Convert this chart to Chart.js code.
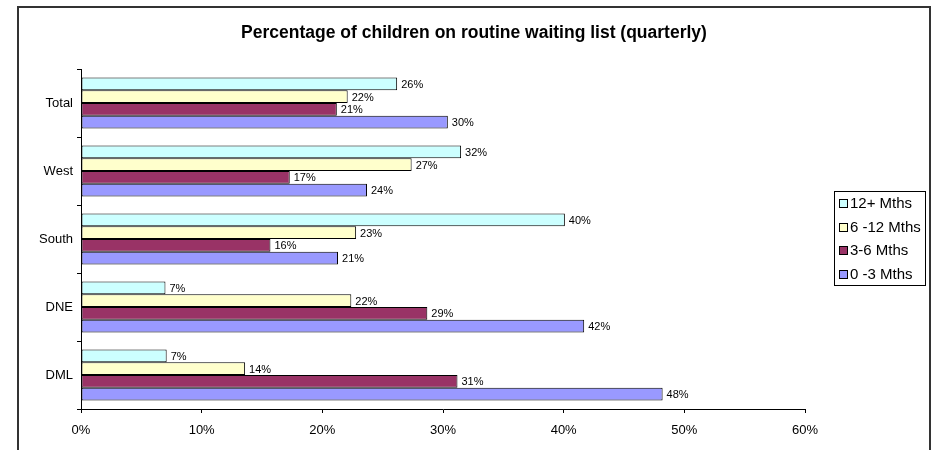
<!DOCTYPE html>
<html lang="en">

<head>
    <meta charset="UTF-8">
    <title>Routine waiting list</title>
    <style>
        body { margin: 0; background: #fff; }
    </style>
</head>

<body>
    <canvas id="myChart" width="935" height="450"></canvas>

    <script src="https://cdn.jsdelivr.net/npm/chart.js@4.4.1/dist/chart.umd.min.js"></script>
    <script>
        // areas, top to bottom
        const categories = ['Total', 'West', 'South', 'DNE', 'DML'];
        const seriesNames = ['12+ Mths', '6 -12 Mths', '3-6 Mths', '0 -3 Mths'];
        const seriesColors = ['#CCFFFF', '#FFFFCC', '#993366', '#9999FF'];

        // percent of children per waiting band
        const over12Mths = [26.2, 31.5, 40.1, 7.0, 7.1];
        const mths6to12 = [22.1, 27.4, 22.8, 22.4, 13.6];
        const mths3to6 = [21.2, 17.3, 15.7, 28.7, 31.2];
        const mths0to3 = [30.4, 23.7, 21.3, 41.7, 48.2];

        const axisMax = 60;
        const axisStep = 10;

        const chartTitle = 'Percentage of children on routine waiting list (quarterly)';
        const fontFamily = '"Liberation Sans", Arial, sans-serif';

        const seriesValues = [over12Mths, mths6to12, mths3to6, mths0to3];

        // outer frame + title centred on the frame
        const framePlugin = {
            id: 'frame',
            beforeDraw(chart) {
                const c = chart.ctx;
                c.save();
                c.fillStyle = '#fff';
                c.fillRect(0, 0, chart.width, chart.height);
                c.strokeStyle = '#333';
                c.lineWidth = 2;
                c.strokeRect(18, 7, 912, 470);
                c.fillStyle = '#000';
                c.font = 'bold 17.5px ' + fontFamily;
                c.textAlign = 'center';
                c.textBaseline = 'middle';
                c.fillText(chartTitle, 474, 33);
                c.restore();
            }
        };

        // value text at the end of each bar
        const valueLabels = {
            id: 'valueLabels',
            afterDatasetsDraw(chart) {
                const c = chart.ctx;
                c.save();
                c.font = '11px ' + fontFamily;
                c.fillStyle = '#000';
                c.textBaseline = 'middle';
                c.textAlign = 'left';
                chart.data.datasets.forEach((ds, i) => {
                    chart.getDatasetMeta(i).data.forEach((bar, j) => {
                        c.fillText(Math.round(ds.data[j]) + '%', bar.x + 4, bar.y + 1);
                    });
                });
                c.restore();
            }
        };

        // boxed legend on the right
        const boxLegend = {
            id: 'boxLegend',
            afterDraw(chart) {
                const c = chart.ctx;
                c.save();
                c.strokeStyle = '#000';
                c.lineWidth = 1;
                c.strokeRect(834.5, 191.5, 91, 94);
                c.font = '15px ' + fontFamily;
                c.textBaseline = 'middle';
                chart.data.datasets.forEach((ds, i) => {
                    const y = Math.round(203 + i * 23.5);
                    c.fillStyle = ds.backgroundColor;
                    c.fillRect(839.5, y - 3.5, 8, 8);
                    c.strokeRect(839.5, y - 3.5, 8, 8);
                    c.fillStyle = '#000';
                    c.fillText(ds.label, 850, y + 1);
                });
                c.restore();
            }
        };

        var ctx = document.getElementById('myChart');
        var config = {
            type: 'bar',
            data: {
                labels: categories,
                datasets: seriesNames.map((name, i) => ({
                    label: name,
                    data: seriesValues[i],
                    backgroundColor: seriesColors[i],
                    borderColor: '#000',
                    borderWidth: 1,
                    borderSkipped: false,
                    barPercentage: 1.0,
                    categoryPercentage: 0.75,
                }))
            },
            options: {
                indexAxis: 'y',
                responsive: false,
                animation: false,
                layout: {
                    padding: { left: 18, right: 130, top: 69, bottom: 0 }
                },
                plugins: {
                    legend: { display: false },
                    tooltip: { enabled: false },
                    title: { display: false }
                },
                scales: {
                    x: {
                        min: 0,
                        max: axisMax,
                        ticks: {
                            stepSize: axisStep,
                            color: '#000',
                            padding: 10,
                            font: { family: fontFamily, size: 13 },
                            callback: v => v + '%'
                        },
                        grid: {
                            drawOnChartArea: false,
                            tickLength: 4,
                            color: '#000'
                        },
                        border: { color: '#000', width: 1 },
                        afterFit: scale => { scale.height = 41; }
                    },
                    y: {
                        ticks: {
                            color: '#000',
                            padding: 4,
                            font: { family: fontFamily, size: 13 }
                        },
                        grid: {
                            offset: true,
                            drawOnChartArea: false,
                            tickLength: 4,
                            color: '#000'
                        },
                        border: { color: '#000', width: 1 },
                        afterFit: scale => { scale.width = 63; }
                    }
                }
            },
            plugins: [framePlugin, valueLabels, boxLegend]
        };
        var chart = new Chart(ctx, config);
    </script>

</body>

</html>
